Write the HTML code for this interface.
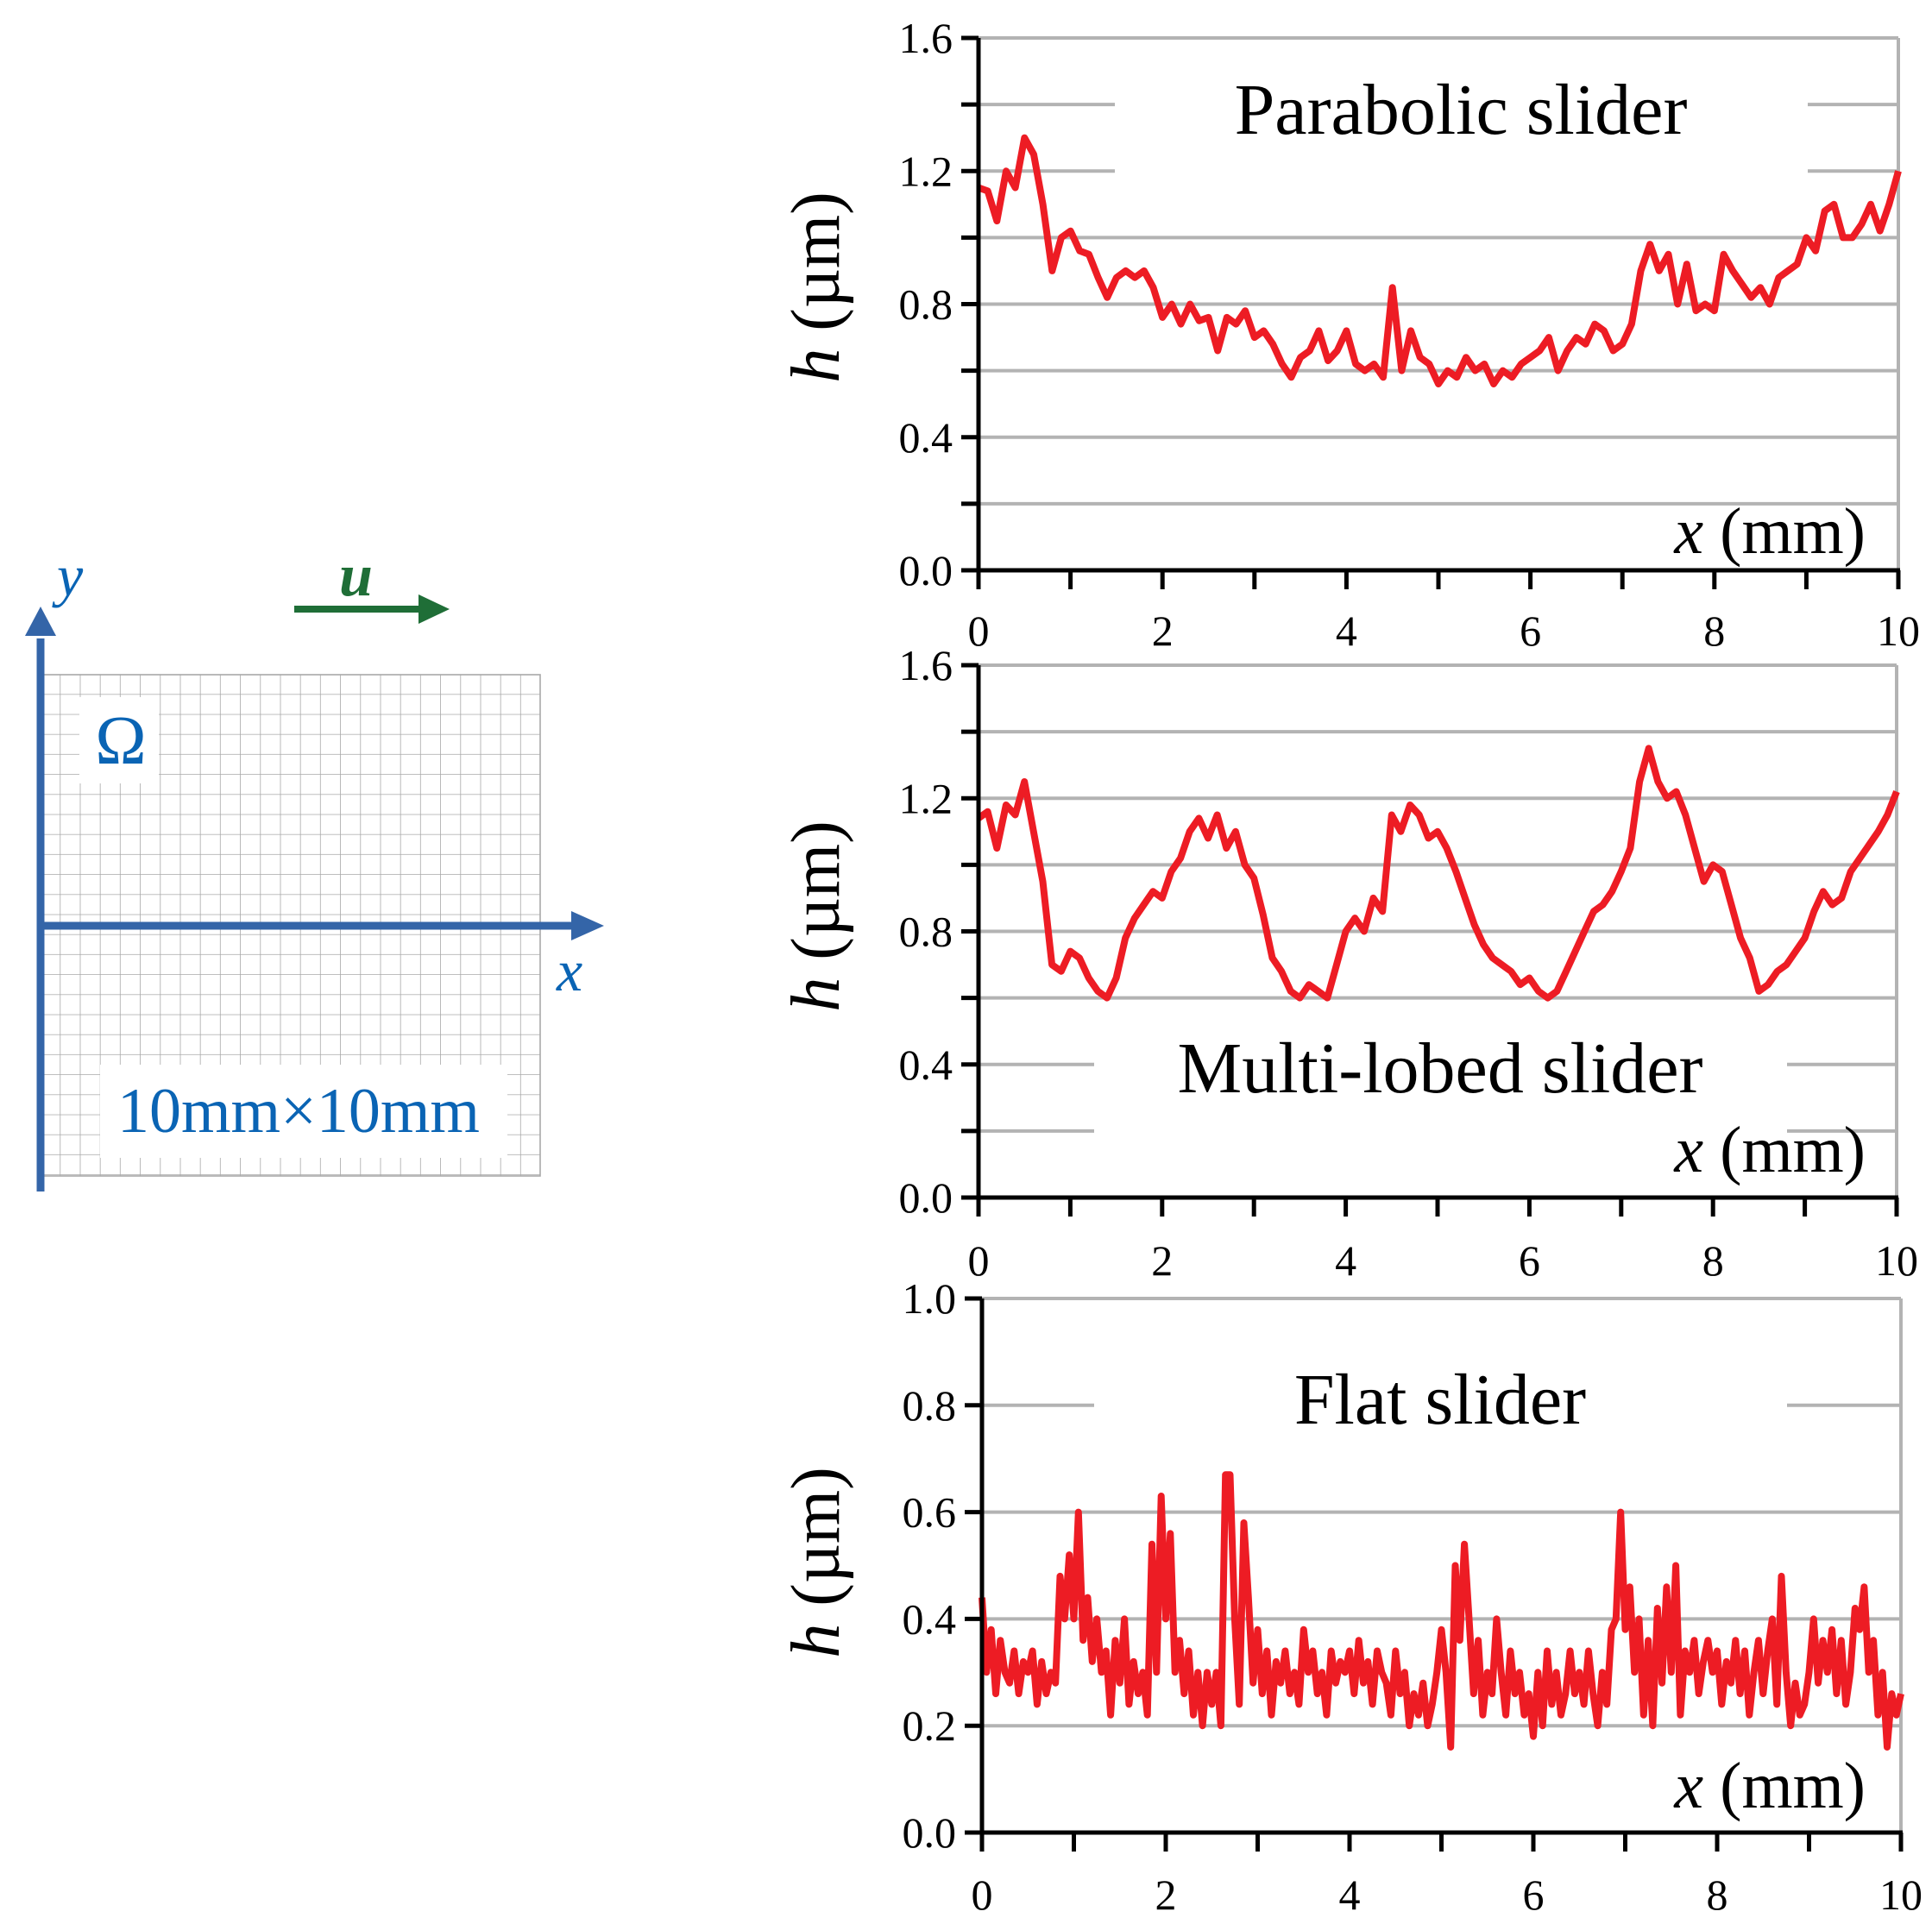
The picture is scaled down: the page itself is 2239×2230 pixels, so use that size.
<!DOCTYPE html>
<html><head><meta charset="utf-8"><style>
html,body{margin:0;padding:0;background:#fff;}
svg{display:block;font-family:"Liberation Serif",serif;}
</style></head><body>
<svg id="fig" width="2239" height="2230" viewBox="0 0 2239 2230" xmlns="http://www.w3.org/2000/svg">
<defs><pattern id="gridpat" width="23.2" height="23.2" patternUnits="userSpaceOnUse" x="47" y="782"><path d="M23.2 0V23.2H0" fill="none" stroke="#a8a8a8" stroke-width="1.6"/></pattern></defs>
<g id="diagram">
<rect x="47" y="782" width="579" height="581" fill="url(#gridpat)" stroke="#a8a8a8" stroke-width="1.6"/>
<rect x="92" y="808" width="92" height="100" fill="#fff"/>
<text x="140" y="885" font-size="80" fill="#0a64b4" text-anchor="middle">Ω</text>
<rect x="116" y="1234" width="472" height="108" fill="#fff"/>
<text x="346" y="1312" font-size="74" fill="#0a64b4" text-anchor="middle">10mm×10mm</text>
<line x1="47" y1="1381" x2="47" y2="740" stroke="#3465a8" stroke-width="9"/>
<polygon points="29,737 65,737 47,703" fill="#3465a8"/>
<line x1="43" y1="1073" x2="666" y2="1073" stroke="#3465a8" stroke-width="9"/>
<polygon points="662,1056 662,1090 700,1073" fill="#3465a8"/>
<text x="66" y="690" font-size="68" font-style="italic" fill="#0a64b4">y</text>
<text x="645" y="1148" font-size="68" font-style="italic" fill="#0a64b4">x</text>
<text x="393" y="690" font-size="70" font-style="italic" font-weight="bold" fill="#1f6e37">u</text>
<line x1="341" y1="706" x2="490" y2="706" stroke="#1f6e37" stroke-width="8"/>
<polygon points="485,689 485,723 521,706" fill="#1f6e37"/>
</g>
<g id="charts"></g>
</svg>
<script>
// Parabolic slider h (µm), x = 0..10 mm
const parabolicH = [1.15,1.14,1.05,1.2,1.15,1.3,1.25,1.1,0.9,1.0,1.02,0.96,0.95,0.88,0.82,0.88,0.9,0.88,0.9,0.85,0.76,0.8,0.74,0.8,0.75,0.76,0.66,0.76,0.74,0.78,0.7,0.72,0.68,0.62,0.58,0.64,0.66,0.72,0.63,0.66,0.72,0.62,0.6,0.62,0.58,0.85,0.6,0.72,0.64,0.62,0.56,0.6,0.58,0.64,0.6,0.62,0.56,0.6,0.58,0.62,0.64,0.66,0.7,0.6,0.66,0.7,0.68,0.74,0.72,0.66,0.68,0.74,0.9,0.98,0.9,0.95,0.8,0.92,0.78,0.8,0.78,0.95,0.9,0.86,0.82,0.85,0.8,0.88,0.9,0.92,1.0,0.96,1.08,1.1,1.0,1.0,1.04,1.1,1.02,1.1,1.2];
// Multi-lobed slider h (µm)
const multiH = [1.14,1.16,1.05,1.18,1.15,1.25,1.1,0.95,0.7,0.68,0.74,0.72,0.66,0.62,0.6,0.66,0.78,0.84,0.88,0.92,0.9,0.98,1.02,1.1,1.14,1.08,1.15,1.05,1.1,1.0,0.96,0.85,0.72,0.68,0.62,0.6,0.64,0.62,0.6,0.7,0.8,0.84,0.8,0.9,0.86,1.15,1.1,1.18,1.15,1.08,1.1,1.05,0.98,0.9,0.82,0.76,0.72,0.7,0.68,0.64,0.66,0.62,0.6,0.62,0.68,0.74,0.8,0.86,0.88,0.92,0.98,1.05,1.25,1.35,1.25,1.2,1.22,1.15,1.05,0.95,1.0,0.98,0.88,0.78,0.72,0.62,0.64,0.68,0.7,0.74,0.78,0.86,0.92,0.88,0.9,0.98,1.02,1.06,1.1,1.15,1.22];
// Flat slider h (µm)
const flatH = [.44,.30,.38,.26,.36,.30,.28,.34,.26,.32,.30,.34,.24,.32,.26,.30,.28,.48,.40,.52,
.40,.60,.36,.44,.32,.40,.30,.34,.22,.36,.28,.40,.24,.32,.26,.30,.22,.54,.30,.63,
.40,.56,.30,.36,.26,.34,.22,.30,.20,.30,.24,.30,.20,.67,.67,.40,.24,.58,.44,.28,
.38,.26,.34,.22,.32,.28,.34,.26,.30,.24,.38,.30,.34,.26,.30,.22,.34,.28,.32,.30,
.34,.26,.36,.28,.32,.24,.34,.30,.28,.22,.34,.26,.30,.20,.26,.22,.28,.20,.24,.30,
.38,.30,.16,.50,.36,.54,.40,.26,.36,.22,.30,.26,.40,.30,.22,.34,.26,.30,.22,.26,
.18,.30,.20,.34,.24,.30,.22,.26,.34,.26,.30,.24,.34,.26,.20,.30,.24,.38,.40,.60,
.38,.46,.30,.40,.22,.36,.20,.42,.28,.46,.30,.50,.22,.34,.30,.36,.26,.32,.36,.30,
.34,.24,.32,.28,.36,.26,.34,.22,.30,.36,.26,.34,.40,.24,.48,.30,.20,.28,.22,.24,
.30,.40,.28,.36,.30,.38,.26,.36,.24,.30,.42,.38,.46,.30,.36,.22,.30,.16,.26,.22,.26];
const xTickLabels = ["0","2","4","6","8","10"];
const yTicksTall = [0,0.2,0.4,0.6,0.8,1.0,1.2,1.4,1.6];
const yLabelsTall = ["0.0","0.4","0.8","1.2","1.6"];
const yTicksFlat = [0,0.2,0.4,0.6,0.8,1.0];
const yLabelsFlat = ["0.0","0.2","0.4","0.6","0.8","1.0"];

const NS="http://www.w3.org/2000/svg";
const root=document.getElementById('charts');
function mk(tag,attrs,parent){const e=document.createElementNS(NS,tag);for(const k in attrs)e.setAttribute(k,attrs[k]);(parent||root).appendChild(e);return e;}

const panels=[
 {key:'parabolic',data:parabolicH,L:1134,R:2200,T:44,B:661,ymax:1.6,ticks:yTicksTall,labels:yLabelsTall,title:'Parabolic slider',tx:1693,ty:155,gapVals:[1.4,1.2],gap:[1292,2095],xlabY:641,tickLabY:748,hY:333},
 {key:'multi',data:multiH,L:1134,R:2198,T:771,B:1388,ymax:1.6,ticks:yTicksTall,labels:yLabelsTall,title:'Multi-lobed slider',tx:1669,ty:1266,gapVals:[0.4,0.2],gap:[1268,2071],xlabY:1358,tickLabY:1478,hY:1062},
 {key:'flat',data:flatH,L:1138,R:2203,T:1505,B:2124,ymax:1.0,ticks:yTicksFlat,labels:yLabelsFlat,title:'Flat slider',tx:1669,ty:1650,gapVals:[0.8],gap:[1268,2071],xlabY:2095,tickLabY:2213,hY:1811}
];
panels.forEach(p=>{
 const g=mk('g',{});
 
 
 const xs=v=>p.L+(v/10)*(p.R-p.L);
 const ys=v=>p.B-(v/p.ymax)*(p.B-p.T);
 p.ticks.forEach(v=>{
   if(v===0)return;
   const y=ys(v);
   if(p.gapVals.some(gv=>Math.abs(gv-v)<1e-6)){
     const a=mk('line',{x1:p.L,y1:y,x2:p.gap[0],y2:y,stroke:'#b3b3b3','stroke-width':4},g);
     
     
     const b=mk('line',{x1:p.gap[1],y1:y,x2:p.R,y2:y,stroke:'#b3b3b3','stroke-width':4},g);
     
     
   } else {
     const a=mk('line',{x1:p.L,y1:y,x2:p.R,y2:y,stroke:'#b3b3b3','stroke-width':4},g);
     
     
   }
 });
 const rb=mk('line',{x1:p.R,y1:p.T,x2:p.R,y2:p.B,stroke:'#b3b3b3','stroke-width':4},g);
 
 
 const pts=p.data.map((v,i)=>xs(i*10/(p.data.length-1)).toFixed(1)+','+ys(v).toFixed(1)).join(' ');
 const line=mk('polyline',{points:pts,fill:'none',stroke:'#ed1c24','stroke-width':8,'stroke-linejoin':'round'},g);
 
 
 const ya=mk('line',{x1:p.L,y1:p.T,x2:p.L,y2:p.B+2,stroke:'#000','stroke-width':5},g);
 
 
 const xa=mk('line',{x1:p.L-20,y1:p.B,x2:p.R+2,y2:p.B,stroke:'#000','stroke-width':5},g);
 
 
 p.ticks.forEach(v=>{
   const t=mk('line',{x1:p.L-20,y1:ys(v),x2:p.L,y2:ys(v),stroke:'#000','stroke-width':5},g);
   
   
 });
 p.labels.forEach(s=>{
   const v=parseFloat(s);
   const t=mk('text',{x:p.L-30,y:ys(v)+17,'font-size':50,'text-anchor':'end',fill:'#000'},g);
   t.textContent=s;
   
   
 });
 for(let k=0;k<=10;k++){
   const t=mk('line',{x1:xs(k),y1:p.B,x2:xs(k),y2:p.B+22,stroke:'#000','stroke-width':5},g);
   
   
 }
 xTickLabels.forEach(s=>{
   const t=mk('text',{x:xs(parseFloat(s)),y:p.tickLabY,'font-size':50,'text-anchor':'middle',fill:'#000'},g);
   t.textContent=s;
   
   
 });
 const ti=mk('text',{x:p.tx,y:p.ty,'font-size':84,'text-anchor':'middle',fill:'#000'},g);
 ti.textContent=p.title;
 
 
 const xl=mk('text',{x:2162,y:p.xlabY,'font-size':76,'text-anchor':'end',fill:'#000'},g);
 xl.innerHTML='<tspan font-style="italic">x</tspan> (mm)';
 
 
 const hl=mk('text',{x:0,y:0,'font-size':80,'text-anchor':'middle',fill:'#000',transform:'translate(972,'+p.hY+') rotate(-90)'},g);
 hl.innerHTML='<tspan font-style="italic">h</tspan> (µm)';
 
 
});
</script>
</body></html>
